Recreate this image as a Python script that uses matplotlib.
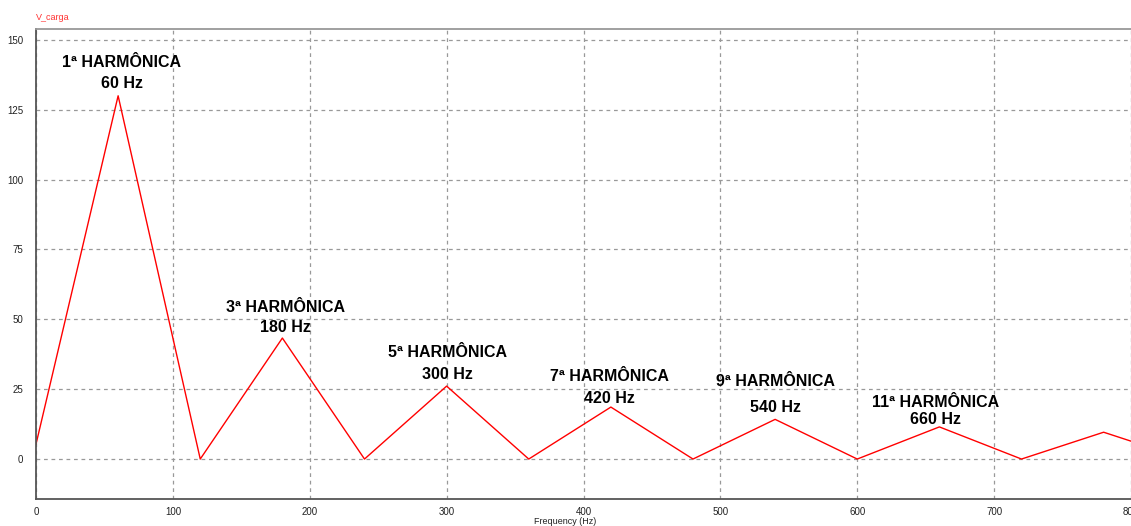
import matplotlib
matplotlib.use("Agg")
import matplotlib.pyplot as plt

freqs = [0, 60, 120, 180, 240, 300, 360, 420, 480, 540, 600, 660, 720, 780, 840]
amps = [5.3, 130, 0, 43.3, 0, 26.1, 0, 18.6, 0, 14.2, 0, 11.5, 0, 9.6, 0]

harm_names = ["1ª HARMÔNICA", "3ª HARMÔNICA", "5ª HARMÔNICA",
              "7ª HARMÔNICA", "9ª HARMÔNICA", "11ª HARMÔNICA"]
harm_freqs = ["60 Hz", "180 Hz", "300 Hz", "420 Hz", "540 Hz", "660 Hz"]

# annotation placement (data coords)
label_x = [62.5, 182.4, 300.9, 419, 540, 657]
name_y = [141.8, 54.4, 38.0, 29.4, 27.6, 20.4]
freq_y = [134.3, 46.9, 30.4, 21.8, 18.6, 14.0]

xticks = [0, 100, 200, 300, 400, 500, 600, 700, 800]
yticks = [0, 25, 50, 75, 100, 125, 150]

plt.rcParams['font.family'] = ['Liberation Sans', 'DejaVu Sans']

fig = plt.figure(figsize=(11.31, 5.26), dpi=100)
ax = fig.add_axes([36/1131, 1-499/526, 1-36/1131, 470/526])

ax.plot(freqs, amps, color='#ff0000', lw=1.0, clip_on=True)
ax.set_xlim(0, 796)
ax.set_ylim(-14.3, 153.9)
ax.set_xticks(xticks)
ax.set_yticks(yticks)
ax.tick_params(length=0, labelsize=7, colors='#222222')
ax.tick_params(axis='y', pad=9)
ax.tick_params(axis='x', pad=6)
ax.grid(True, color='#999999', linestyle=(0, (3, 3)), lw=0.9)
for s in ['left', 'bottom', 'top']:
    ax.spines[s].set_color('#555555')
    ax.spines[s].set_linewidth(1.3)
ax.spines['top'].set_color('#999999')
ax.spines['right'].set_visible(False)

for n, f, x, y1, y2 in zip(harm_names, harm_freqs, label_x, name_y, freq_y):
    ax.text(x, y1, n, ha='center', va='center', fontsize=11.5, fontweight='bold', color='black')
    ax.text(x, y2, f, ha='center', va='center', fontsize=11.5, fontweight='bold', color='black')

fig.text(36/1131, 1-17/526, "V_carga", color='#ff3333', fontsize=6.5, va='center', ha='left')
fig.text(0.5, 1-522/526, "Frequency (Hz)", fontsize=6.5, ha='center', va='center', color='#222222')

fig.savefig("out.png", dpi=100)
